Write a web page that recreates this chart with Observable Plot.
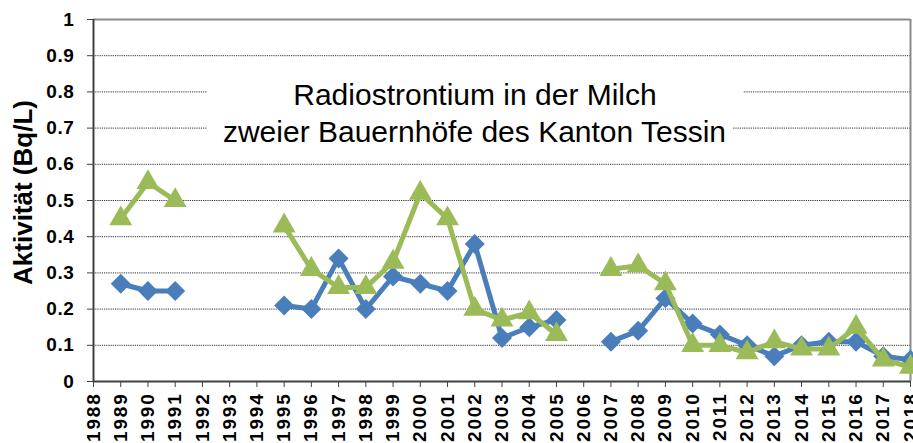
<!DOCTYPE html>
<html>
<head>
<meta charset="utf-8">
<script src="https://cdn.jsdelivr.net/npm/d3@7"></script>
<script src="https://cdn.jsdelivr.net/npm/@observablehq/plot@0.6"></script>
<style>
  html, body { margin: 0; padding: 0; background: #fff; overflow: hidden; }
  #wrap { position: relative; width: 913px; height: 443px; overflow: hidden; }
  #wrap svg { display: block; }
  #wrap g[aria-label="x-axis tick label"] { letter-spacing: 1.8px; }
  #wrap g[aria-label="y-axis tick label"] { letter-spacing: 0.6px; }
  .t { position: absolute; background: #fff; font-family: "Liberation Sans", Arial, sans-serif;
       font-size: 30px; line-height: 34px; height: 34px; text-align: center; color: #000; white-space: nowrap; font-weight: normal; }
</style>
</head>
<body>
<div id="wrap">
  <div class="t" style="left:207px;top:77.6px;width:536px;">Radiostrontium in der Milch</div>
  <div class="t" style="left:207px;top:114.6px;width:517px;padding-left:9px;">zweier Bauernhöfe des Kanton Tessin</div>
</div>
<script>
// Tick labels
const xTicks = [1988, 1989, 1990, 1991, 1992, 1993, 1994, 1995, 1996, 1997, 1998, 1999, 2000, 2001, 2002, 2003,
                2004, 2005, 2006, 2007, 2008, 2009, 2010, 2011, 2012, 2013, 2014, 2015, 2016, 2017, 2018];
const yTicks = [0, 0.1, 0.2, 0.3, 0.4, 0.5, 0.6, 0.7, 0.8, 0.9, 1];
const gridValues = [0.1, 0.2, 0.3, 0.4, 0.5, 0.6, 0.7, 0.8, 0.9];
const yLabel = "Aktivität (Bq/L)";

// Data (null = no measurement)
const years = [1989, 1990, 1991, 1992, 1993, 1994, 1995, 1996, 1997, 1998, 1999, 2000, 2001, 2002, 2003,
               2004, 2005, 2006, 2007, 2008, 2009, 2010, 2011, 2012, 2013, 2014, 2015, 2016, 2017, 2018];
const farmBlue = [0.27, 0.25, 0.25, null, null, null, 0.21, 0.20, 0.34, 0.20, 0.29, 0.27, 0.25, 0.38, 0.12,
                  0.15, 0.17, null, 0.11, 0.14, 0.23, 0.16, 0.13, 0.10, 0.07, 0.10, 0.11, 0.11, 0.07, 0.06];
const farmGreen = [0.45, 0.55, 0.50, null, null, null, 0.43, 0.31, 0.26, 0.26, 0.33, 0.52, 0.45, 0.20, 0.17,
                   0.19, 0.13, null, 0.31, 0.32, 0.27, 0.10, 0.10, 0.08, 0.11, 0.09, 0.09, 0.15, 0.06, 0.04];

const rows = years.map((year, i) => ({year, blue: farmBlue[i], green: farmGreen[i]}));

const BLUE = "#4A7EBB";
const GREEN = "#9BBB59";

const chart = Plot.plot({
  width: 913,
  height: 443,
  marginTop: 19,
  marginBottom: 62,
  marginLeft: 93,
  marginRight: 3,
  style: {fontFamily: "'Liberation Sans', Arial, sans-serif", fontSize: "19px", fontWeight: "bold",
          background: "#fff", color: "#000"},
  x: {domain: [1988, 2018]},
  y: {domain: [0, 1]},
  marks: [
    Plot.ruleY(gridValues, {stroke: "#333", strokeDasharray: "1.2,1", strokeWidth: 1}),
    Plot.ruleY([1], {stroke: "#8a8a8a", strokeWidth: 2}),
    Plot.ruleX([2018], {stroke: "#8a8a8a", strokeWidth: 2}),
    Plot.axisY({ticks: yTicks, tickFormat: d => String(d), tickSize: 6, tickPadding: 13,
                fontSize: 19, label: null, stroke: "#404040"}),
    Plot.axisX({ticks: xTicks, tickFormat: d => String(d), tickSize: 6, tickPadding: 5, tickRotate: -90,
                fontSize: 19, label: null, stroke: "#404040"}),
    Plot.ruleX([1988], {stroke: "#404040", strokeWidth: 2}),
    Plot.ruleY([0], {stroke: "#404040", strokeWidth: 2}),
    Plot.lineY(rows, {x: "year", y: "blue", stroke: BLUE, strokeWidth: 5, strokeLinejoin: "round"}),
    Plot.dot(rows, {x: "year", y: "blue", symbol: "diamond2", r: 9, fill: BLUE, stroke: null}),
    Plot.lineY(rows, {x: "year", y: "green", stroke: GREEN, strokeWidth: 5, strokeLinejoin: "round"}),
    Plot.dot(rows, {x: "year", y: "green", symbol: "triangle", r: 8.5, fill: GREEN, stroke: null}),
    Plot.text([yLabel], {text: d => d, frameAnchor: "left", textAnchor: "middle", rotate: -90, dx: -70, dy: -8,
                         fontSize: 26, fontWeight: "bold", fill: "#000"})
  ]
});
document.getElementById("wrap").prepend(chart);
</script>
</body>
</html>
